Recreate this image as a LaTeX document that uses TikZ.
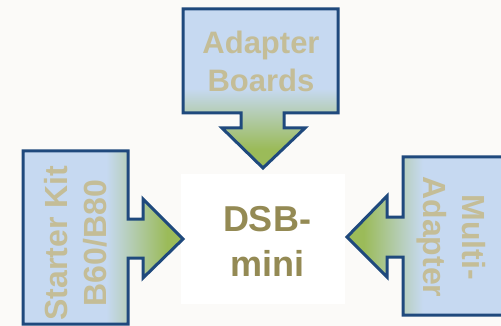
\documentclass[tikz,border=0pt]{standalone}
\usepackage{fontspec}
\setsansfont{Liberation Sans}
\definecolor{cblue}{HTML}{C6D9F1}
\definecolor{cgreen}{HTML}{9BBB59}
\definecolor{cline}{HTML}{1F497D}
\definecolor{ctan}{HTML}{C4BD97}
\definecolor{colive}{HTML}{948A54}
\definecolor{cbg}{HTML}{FBFAF8}
\pgfdeclareverticalshading{topsh}{100bp}{color(0bp)=(cgreen); color(31bp)=(cgreen); color(50bp)=(cblue); color(100bp)=(cblue)}
\pgfdeclarehorizontalshading{leftsh}{100bp}{color(0bp)=(cblue); color(51bp)=(cblue); color(70bp)=(cgreen); color(100bp)=(cgreen)}
\pgfdeclarehorizontalshading{rightsh}{100bp}{color(0bp)=(cgreen); color(30bp)=(cgreen); color(48bp)=(cblue); color(100bp)=(cblue)}
\begin{document}
\begin{tikzpicture}[x=1pt,y=-1pt,
  callout/.style={draw=cline,line width=3pt,line join=miter},
  lbl/.style={inner sep=0pt,align=center,text=ctan,font=\sffamily\bfseries\fontsize{31}{38}\selectfont},
  rlbl/.style={inner sep=0pt,align=center,text=ctan,font=\sffamily\bfseries\fontsize{32}{39}\selectfont},
  main/.style={inner sep=0pt,align=center,text=colive,font=\sffamily\bfseries\fontsize{36}{45}\selectfont}]
\useasboundingbox (0,0) rectangle (501,326);
\fill[cbg] (0,0) rectangle (501,326);
\clip (0,0) rectangle (501,326);
\fill[white] (181,174) rectangle (345,304);
% top callout
\path[callout,shading=topsh] (183,9) -- (338,9) -- (338,113) -- (284,113) -- (284,128) -- (305,128) -- (263,168) -- (222,128) -- (241,128) -- (241,113) -- (183,113) -- cycle;
% left callout
\path[callout,shading=leftsh] (23,151) -- (128,151) -- (128,219) -- (143,219) -- (143,199) -- (183,239) -- (143,278) -- (143,258) -- (128,258) -- (128,324) -- (23,324) -- cycle;
% right callout
\path[callout,shading=rightsh] (512,157) -- (403,157) -- (403,217) -- (387,217) -- (387,196) -- (347,237) -- (387,277) -- (387,257) -- (403,257) -- (403,315) -- (512,315) -- cycle;
\node[lbl] (adapter) at (261,61) {Adapter\\Boards};
\node[rlbl,rotate=90] (starter) at (76,243) {Starter Kit\\B60/B80};
\node[rlbl,rotate=-90] (multi) at (451,237) {Multi-\\Adapter};
\node[main] (dsb) at (267,241) {DSB-\\mini};
\end{tikzpicture}
\end{document}
